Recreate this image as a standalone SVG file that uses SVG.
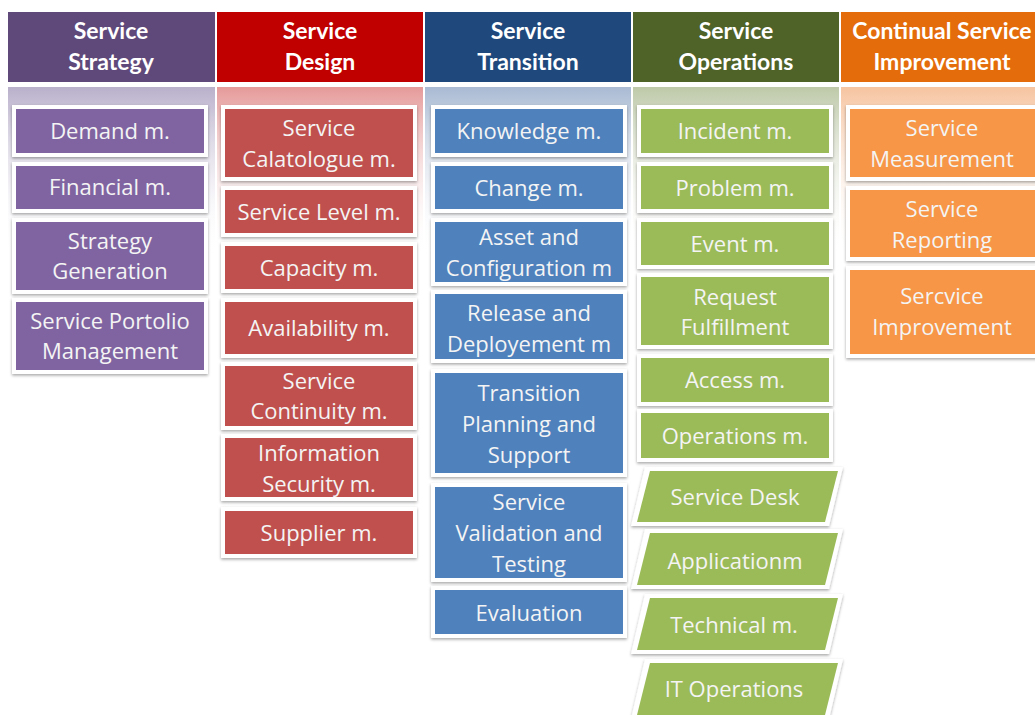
<svg xmlns="http://www.w3.org/2000/svg" width="1035" height="715" viewBox="0 0 1035 715">
<defs>
<filter id="sh" x="-10%" y="-10%" width="120%" height="130%">
<feDropShadow dx="0" dy="1.5" stdDeviation="1.5" flood-color="#000" flood-opacity="0.35"/>
</filter>
<linearGradient id="gP" x1="0" y1="0" x2="0" y2="1"><stop offset="0" stop-color="#B9B0CB"/><stop offset="1" stop-color="#FFFFFF" stop-opacity="0"/></linearGradient>
<linearGradient id="gR" x1="0" y1="0" x2="0" y2="1"><stop offset="0" stop-color="#E59A99"/><stop offset="1" stop-color="#FFFFFF" stop-opacity="0"/></linearGradient>
<linearGradient id="gB" x1="0" y1="0" x2="0" y2="1"><stop offset="0" stop-color="#A9BAD3"/><stop offset="1" stop-color="#FFFFFF" stop-opacity="0"/></linearGradient>
<linearGradient id="gG" x1="0" y1="0" x2="0" y2="1"><stop offset="0" stop-color="#BEC9A9"/><stop offset="1" stop-color="#FFFFFF" stop-opacity="0"/></linearGradient>
<linearGradient id="gO" x1="0" y1="0" x2="0" y2="1"><stop offset="0" stop-color="#F6C4A0"/><stop offset="1" stop-color="#FFFFFF" stop-opacity="0"/></linearGradient>
</defs>
<style>
.hd{font-family:Lato,"Open Sans","Liberation Sans",sans-serif;font-weight:bold;font-size:23px;fill:#FFFFFF;text-anchor:middle}
.tx{font-family:"Open Sans",Lato,"Liberation Sans",sans-serif;font-size:22px;fill:#F4F4F4;text-anchor:middle}
.fr{fill:#FFFFFF;filter:url(#sh)}
.p{fill:#8064A2}.r{fill:#C0504D}.b{fill:#4F81BD}.g{fill:#9BBB59}.o{fill:#F79646}
</style>
<rect width="1035" height="715" fill="#FFFFFF"/>
<g id="headers">
<rect x="8" y="12" width="207" height="70" fill="#5F497A"/>
<rect x="217" y="12" width="206" height="70" fill="#C00000"/>
<rect x="425" y="12" width="206" height="70" fill="#1F497D"/>
<rect x="633" y="12" width="206" height="70" fill="#4F6228"/>
<rect x="841" y="12" width="194" height="70" fill="#E46C0A"/>
<text class="hd" x="111" y="39">Service</text><text class="hd" x="111" y="70">Strategy</text>
<text class="hd" x="320" y="39">Service</text><text class="hd" x="320" y="70">Design</text>
<text class="hd" x="528" y="39">Service</text><text class="hd" x="528" y="70">Transition</text>
<text class="hd" x="736" y="39">Service</text><text class="hd" x="736" y="70">Operations</text>
<text class="hd" x="942" y="39">Continual Service</text><text class="hd" x="942" y="70">Improvement</text>
</g>
<g id="bands">
<rect x="8" y="87" width="207" height="170" fill="url(#gP)"/>
<rect x="217" y="87" width="206" height="170" fill="url(#gR)"/>
<rect x="425" y="87" width="206" height="170" fill="url(#gB)"/>
<rect x="633" y="87" width="206" height="170" fill="url(#gG)"/>
<rect x="841" y="87" width="194" height="170" fill="url(#gO)"/>
</g>
<g id="demand"><rect class="fr" x="12" y="105" width="196" height="52"/><rect class="p" x="16" y="109" width="188" height="44"/><text class="tx" x="110" y="139">Demand m.</text></g>
<g id="financial"><rect class="fr" x="12" y="162" width="196" height="51"/><rect class="p" x="16" y="166" width="188" height="43"/><text class="tx" x="110" y="195">Financial m.</text></g>
<g id="strategy-generation"><rect class="fr" x="12" y="218" width="196" height="76"/><rect class="p" x="16" y="222" width="188" height="68"/><text class="tx" x="110" y="249">Strategy</text><text class="tx" x="110" y="279">Generation</text></g>
<g id="portfolio"><rect class="fr" x="12" y="298" width="196" height="76"/><rect class="p" x="16" y="302" width="188" height="68"/><text class="tx" x="110" y="329">Service Portolio</text><text class="tx" x="110" y="359">Management</text></g>
<g id="catalogue"><rect class="fr" x="221" y="105" width="196" height="76"/><rect class="r" x="225" y="109" width="188" height="68"/><text class="tx" x="319" y="136">Service</text><text class="tx" x="319" y="167">Calatologue m.</text></g>
<g id="service-level"><rect class="fr" x="221" y="186" width="196" height="51"/><rect class="r" x="225" y="190" width="188" height="43"/><text class="tx" x="319" y="220">Service Level m.</text></g>
<g id="capacity"><rect class="fr" x="221" y="242" width="196" height="51"/><rect class="r" x="225" y="246" width="188" height="43"/><text class="tx" x="319" y="276">Capacity m.</text></g>
<g id="availability"><rect class="fr" x="221" y="298" width="196" height="60"/><rect class="r" x="225" y="302" width="188" height="52"/><text class="tx" x="319" y="336">Availability m.</text></g>
<g id="continuity"><rect class="fr" x="221" y="362" width="196" height="68"/><rect class="r" x="225" y="366" width="188" height="60"/><text class="tx" x="319" y="389">Service</text><text class="tx" x="319" y="419">Continuity m.</text></g>
<g id="infosec"><rect class="fr" x="221" y="434" width="196" height="67"/><rect class="r" x="225" y="438" width="188" height="59"/><text class="tx" x="319" y="461">Information</text><text class="tx" x="319" y="492">Security m.</text></g>
<g id="supplier"><rect class="fr" x="221" y="507" width="196" height="51"/><rect class="r" x="225" y="511" width="188" height="43"/><text class="tx" x="319" y="541">Supplier m.</text></g>
<g id="knowledge"><rect class="fr" x="431" y="105" width="196" height="52"/><rect class="b" x="435" y="109" width="188" height="44"/><text class="tx" x="529" y="139">Knowledge m.</text></g>
<g id="change"><rect class="fr" x="431" y="162" width="196" height="51"/><rect class="b" x="435" y="166" width="188" height="43"/><text class="tx" x="529" y="196">Change m.</text></g>
<g id="asset"><rect class="fr" x="431" y="218" width="196" height="68"/><rect class="b" x="435" y="222" width="188" height="60"/><text class="tx" x="529" y="245">Asset and</text><text class="tx" x="529" y="276">Configuration m</text></g>
<g id="release"><rect class="fr" x="431" y="290" width="196" height="73"/><rect class="b" x="435" y="294" width="188" height="65"/><text class="tx" x="529" y="321">Release and</text><text class="tx" x="529" y="352">Deployement m</text></g>
<g id="transition-planning"><rect class="fr" x="431" y="369" width="196" height="108"/><rect class="b" x="435" y="373" width="188" height="100"/><text class="tx" x="529" y="401">Transition</text><text class="tx" x="529" y="432">Planning and</text><text class="tx" x="529" y="463">Support</text></g>
<g id="validation"><rect class="fr" x="431" y="483" width="196" height="99"/><rect class="b" x="435" y="487" width="188" height="91"/><text class="tx" x="529" y="510">Service</text><text class="tx" x="529" y="541">Validation and</text><text class="tx" x="529" y="572">Testing</text></g>
<g id="evaluation"><rect class="fr" x="431" y="586" width="196" height="52"/><rect class="b" x="435" y="590" width="188" height="44"/><text class="tx" x="529" y="621">Evaluation</text></g>
<g id="incident"><rect class="fr" x="637" y="105" width="196" height="52"/><rect class="g" x="641" y="109" width="188" height="44"/><text class="tx" x="735" y="139">Incident m.</text></g>
<g id="problem"><rect class="fr" x="637" y="162" width="196" height="51"/><rect class="g" x="641" y="166" width="188" height="43"/><text class="tx" x="735" y="196">Problem m.</text></g>
<g id="event"><rect class="fr" x="637" y="218" width="196" height="51"/><rect class="g" x="641" y="222" width="188" height="43"/><text class="tx" x="735" y="252">Event m.</text></g>
<g id="request"><rect class="fr" x="637" y="273" width="196" height="76"/><rect class="g" x="641" y="277" width="188" height="68"/><text class="tx" x="735" y="305">Request</text><text class="tx" x="735" y="335">Fulfillment</text></g>
<g id="access"><rect class="fr" x="637" y="354" width="196" height="52"/><rect class="g" x="641" y="358" width="188" height="44"/><text class="tx" x="735" y="388">Access m.</text></g>
<g id="operations"><rect class="fr" x="637" y="409" width="196" height="53"/><rect class="g" x="641" y="413" width="188" height="45"/><text class="tx" x="735" y="444">Operations m.</text></g>
<g id="service-desk"><polygon class="fr" points="645,467 843,467 829,526 631,526"/><polygon class="g" points="650,471 838,471 825,522 637,522"/><text class="tx" x="735" y="505">Service Desk</text></g>
<g id="application"><polygon class="fr" points="645,529 843,529 829,589 631,589"/><polygon class="g" points="650,533 838,533 825,585 637,585"/><text class="tx" x="735" y="569">Applicationm</text></g>
<g id="technical"><polygon class="fr" points="645,594 843,594 829,654 631,654"/><polygon class="g" points="650,598 838,598 825,650 637,650"/><text class="tx" x="734" y="633">Technical m.</text></g>
<g id="it-operations"><polygon class="fr" points="645,659 843,659 829,719 631,719"/><polygon class="g" points="650,663 838,663 825,715 637,715"/><text class="tx" x="734" y="697">IT Operations</text></g>
<g id="measurement"><rect class="fr" x="846" y="105" width="194" height="76"/><rect class="o" x="850" y="109" width="190" height="68"/><text class="tx" x="942" y="136">Service</text><text class="tx" x="942" y="167">Measurement</text></g>
<g id="reporting"><rect class="fr" x="846" y="186" width="194" height="75"/><rect class="o" x="850" y="190" width="190" height="67"/><text class="tx" x="942" y="217">Service</text><text class="tx" x="942" y="248">Reporting</text></g>
<g id="improvement"><rect class="fr" x="846" y="266" width="194" height="92"/><rect class="o" x="850" y="270" width="190" height="84"/><text class="tx" x="942" y="304">Sercvice</text><text class="tx" x="942" y="335">Improvement</text></g>
<g id="connectors"></g>
</svg>
